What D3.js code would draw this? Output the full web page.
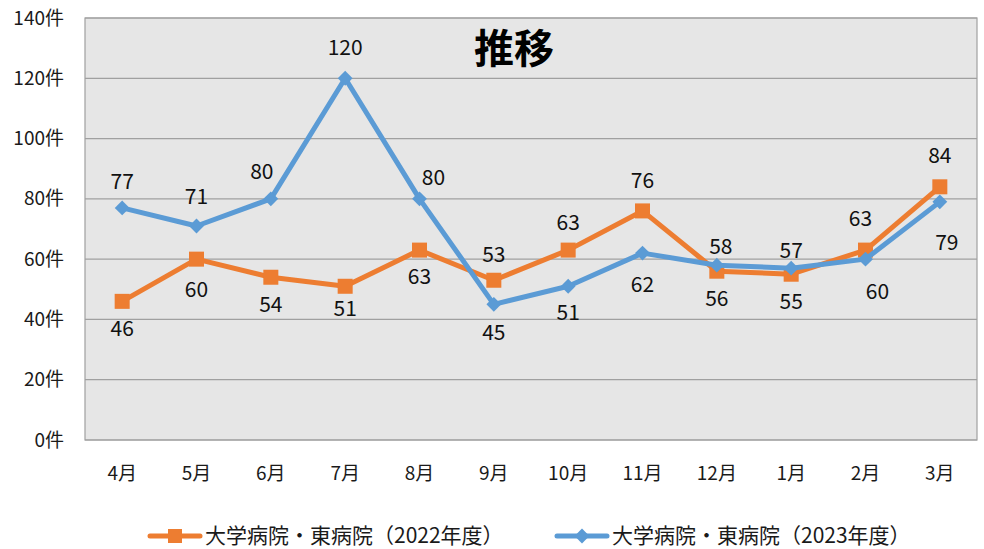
<!DOCTYPE html>
<html>
<head>
<meta charset="utf-8">
<script src="https://cdn.jsdelivr.net/npm/d3@7"></script>
<style>
  body { margin: 0; background: #fff; }
  svg { display: block; font-family: "Noto Sans CJK JP", "Noto Sans", sans-serif; }
</style>
</head>
<body>
<div id="chart"></div>
<script>
// data
var months = ["4月", "5月", "6月", "7月", "8月", "9月", "10月", "11月", "12月", "1月", "2月", "3月"];
var fy2022 = [46, 60, 54, 51, 63, 53, 63, 76, 56, 55, 63, 84];
var fy2023 = [77, 71, 80, 120, 80, 45, 51, 62, 58, 57, 60, 79];
var yTicks = [0, 20, 40, 60, 80, 100, 120, 140];
var seriesNames = ["大学病院・東病院（2022年度）", "大学病院・東病院（2023年度）"];

// label placement (layout only)
var off2022 = [[0, 27], [0, 31], [0, 27], [0, 22], [0, 27], [0, -26], [0, -27], [0, -30], [0, 27], [0, 27], [-5, -31], [0, -31]];
var off2023 = [[0, -26], [0, -29], [-9, -27], [0, -31], [14, -21], [0, 28], [0, 26], [0, 32], [4, -19], [0, -18], [12, 33], [7, 41]];

var W = 984, H = 549;
var plotL = 85, plotR = 977, plotT = 18, plotB = 440;

var svg = d3.select("#chart").append("svg")
  .attr("width", W).attr("height", H);

var x = d3.scaleBand().domain(months).range([plotL, plotR]);
var y = d3.scaleLinear().domain([0, 140]).range([plotB, plotT]);
var cx = function(d, i) { return x(months[i]) + x.bandwidth() / 2; };

// plot background
svg.append("rect")
  .attr("x", plotL).attr("y", plotT)
  .attr("width", plotR - plotL).attr("height", plotB - plotT)
  .attr("fill", "#e6e6e6");

// grid
svg.append("g").selectAll("line").data(yTicks).enter().append("line")
  .attr("x1", plotL).attr("x2", plotR)
  .attr("y1", function(d) { return y(d); }).attr("y2", function(d) { return y(d); })
  .attr("stroke", "#a0a0a0").attr("stroke-width", 1.2);

svg.append("rect")
  .attr("x", plotL).attr("y", plotT)
  .attr("width", plotR - plotL).attr("height", plotB - plotT)
  .attr("fill", "none").attr("stroke", "#a0a0a0").attr("stroke-width", 1.2);

// y axis labels
var yAxis = d3.axisLeft(y).tickValues(yTicks).tickSize(0).tickPadding(21)
  .tickFormat(function(d) { return d + "件"; });
var gy = svg.append("g").attr("transform", "translate(" + plotL + ",0)").call(yAxis);
gy.select(".domain").remove();
gy.selectAll("text").attr("font-size", 19).attr("fill", "#1a1a1a")
  .attr("font-family", "'Noto Sans CJK JP', sans-serif");

// x axis labels
var xAxis = d3.axisBottom(x).tickSize(0).tickPadding(27);
var gx = svg.append("g").attr("transform", "translate(0," + plotB + ")").call(xAxis);
gx.select(".domain").remove();
gx.selectAll("text").attr("font-size", 19).attr("fill", "#1a1a1a")
  .attr("font-family", "'Noto Sans CJK JP', sans-serif");

// title
svg.append("text")
  .attr("x", 514).attr("y", 63)
  .attr("text-anchor", "middle")
  .attr("font-size", 40).attr("font-weight", "bold")
  .attr("fill", "#000")
  .text("推移");

var line = d3.line()
  .x(cx)
  .y(function(d) { return y(d); });

var orange = "#ed7d31", blue = "#5b9bd5";

// 2022 series
svg.append("path").datum(fy2022)
  .attr("d", line).attr("fill", "none")
  .attr("stroke", orange).attr("stroke-width", 5).attr("stroke-linejoin", "round");

svg.append("g").selectAll("rect").data(fy2022).enter().append("rect")
  .attr("x", function(d, i) { return cx(d, i) - 7.5; })
  .attr("y", function(d) { return y(d) - 7.5; })
  .attr("width", 15).attr("height", 15)
  .attr("fill", orange);

// 2023 series
svg.append("path").datum(fy2023)
  .attr("d", line).attr("fill", "none")
  .attr("stroke", blue).attr("stroke-width", 5).attr("stroke-linejoin", "round");

var diamond = d3.symbol().type(d3.symbolSquare).size(110);
svg.append("g").selectAll("path").data(fy2023).enter().append("path")
  .attr("d", diamond)
  .attr("transform", function(d, i) { return "translate(" + cx(d, i) + "," + y(d) + ") rotate(45)"; })
  .attr("fill", blue);

// data labels
function labels(data, off) {
  svg.append("g").selectAll("text").data(data).enter().append("text")
    .attr("x", function(d, i) { return cx(d, i) + off[i][0]; })
    .attr("y", function(d, i) { return y(d) + off[i][1]; })
    .attr("dy", "0.35em")
    .attr("text-anchor", "middle")
    .attr("font-size", 21)
    .attr("fill", "#111")
    .text(function(d) { return d; });
}
labels(fy2022, off2022);
labels(fy2023, off2023);

// legend
var legend = svg.append("g");
var legendItems = [
  { name: seriesNames[0], color: orange, x0: 150, marker: "square" },
  { name: seriesNames[1], color: blue, x0: 557, marker: "diamond" }
];
legendItems.forEach(function(it) {
  var ly = 536;
  legend.append("line")
    .attr("x1", it.x0).attr("x2", it.x0 + 50)
    .attr("y1", ly).attr("y2", ly)
    .attr("stroke", it.color).attr("stroke-width", 5).attr("stroke-linecap", "round");
  if (it.marker === "square") {
    legend.append("rect")
      .attr("x", it.x0 + 18).attr("y", ly - 7)
      .attr("width", 14).attr("height", 14).attr("fill", it.color);
  } else {
    legend.append("path").attr("d", diamond)
      .attr("transform", "translate(" + (it.x0 + 25) + "," + ly + ") rotate(45)")
      .attr("fill", it.color);
  }
  legend.append("text")
    .attr("x", it.x0 + 55).attr("y", ly)
    .attr("dy", "0.33em")
    .attr("font-size", 21).attr("fill", "#1a1a1a")
    .text(it.name);
});
</script>
</body>
</html>
